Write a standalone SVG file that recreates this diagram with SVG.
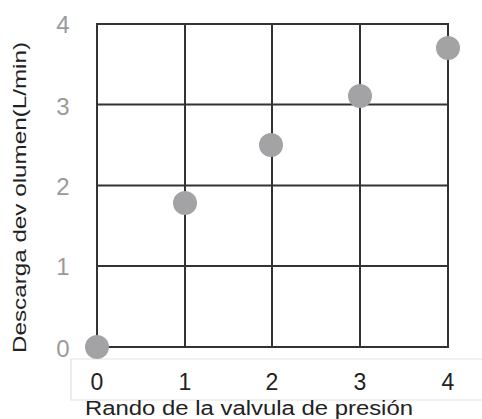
<svg xmlns="http://www.w3.org/2000/svg" width="482" height="419" viewBox="0 0 482 419">
<style>
.grid{stroke:#333;stroke-width:2;fill:none}
.pt{fill:#a3a3a5}
.yl{font-family:"Liberation Sans",Arial,sans-serif;font-size:24px;fill:#9a9a9a;text-anchor:middle}
.xl{font-family:"Liberation Sans",Arial,sans-serif;font-size:23px;fill:#222;text-anchor:middle}
.title{font-family:"Liberation Sans",Arial,sans-serif;fill:#222}
</style>
<rect width="482" height="419" fill="#fff"/>
<g id="xaxis-box">
<path d="M482 359 H71 V400 H482" fill="none" stroke="#e2e2e2" stroke-width="1.2"/>
</g>
<g id="grid" class="grid">
<rect x="97" y="24" width="351" height="323"/>
<line x1="185" y1="24" x2="185" y2="347"/>
<line x1="272" y1="24" x2="272" y2="347"/>
<line x1="360" y1="24" x2="360" y2="347"/>
<line x1="97" y1="104.5" x2="448" y2="104.5"/>
<line x1="97" y1="185.5" x2="448" y2="185.5"/>
<line x1="97" y1="266" x2="448" y2="266"/>
</g>
<g id="yticks">
<text class="yl" x="63" y="33">4</text>
<text class="yl" x="63" y="115">3</text>
<text class="yl" x="63" y="195">2</text>
<text class="yl" x="63" y="275">1</text>
<text class="yl" x="63" y="357">0</text>
</g>
<g id="xticks">
<text class="xl" x="97" y="390">0</text>
<text class="xl" x="185" y="390">1</text>
<text class="xl" x="272" y="390">2</text>
<text class="xl" x="360" y="390">3</text>
<text class="xl" x="448" y="390">4</text>
</g>
<g id="points">
<circle class="pt" cx="97" cy="347" r="12"/>
<circle class="pt" cx="185" cy="203" r="12"/>
<circle class="pt" cx="271" cy="145" r="12"/>
<circle class="pt" cx="360" cy="96" r="12"/>
<circle class="pt" cx="448" cy="48" r="12"/>
</g>
<g id="titles">
<text class="title" font-size="20" x="85" y="415" textLength="328" lengthAdjust="spacingAndGlyphs">Rando de la valvula de presión</text>
<text class="title" font-size="18" transform="translate(26 353) rotate(-90)" textLength="311" lengthAdjust="spacingAndGlyphs">Descarga dev olumen(L/min)</text>
</g>
</svg>
